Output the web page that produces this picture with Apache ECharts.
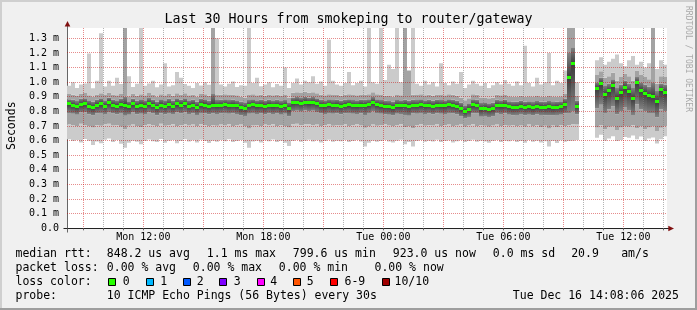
<!DOCTYPE html>
<html><head><meta charset="utf-8">
<script src="https://cdn.jsdelivr.net/npm/echarts@6/dist/echarts.min.js"></script>
<style>html,body{margin:0;padding:0;background:#f0f0f0}#c{width:697px;height:310px}</style>
</head><body><div id="c"></div>
<script>
// ---------- axis / category definitions ----------
const startTime = new Date(2025, 11, 15, 8, 11, 0).getTime();
const endTime   = new Date(2025, 11, 16, 14, 11, 0).getTime();
const stepMs = 12 * 60 * 1000;          // one smoke column = 12 minutes
const yMax = 1371;                       // microseconds
const yTicks = [0,100,200,300,400,500,600,700,800,900,1000,1100,1200,1300];
const xLabelTexts = ['Mon 12:00','Mon 18:00','Tue 00:00','Tue 06:00','Tue 12:00'];
const xLabelTimes = [
  new Date(2025,11,15,12,0).getTime(), new Date(2025,11,15,18,0).getTime(),
  new Date(2025,11,16,0,0).getTime(),  new Date(2025,11,16,6,0).getTime(),
  new Date(2025,11,16,12,0).getTime()];

// ---------- data (microseconds), one value per 12-minute column ----------
const pingMin = [
 610,598,605,588,612,600,570,595,582,606,
 615,590,604,578,552,585,600,592,575,598,
 608,596,590,612,585,600,605,582,598,610,
 595,602,588,606,598,584,600,592,604,596,
 610,590,598,605,586,552,594,600,588,602,
 596,608,590,600,585,564,598,604,592,600,
 606,594,602,588,598,606,592,600,596,605,
 590,598,604,595,560,586,600,592,598,604,
 594,588,600,606,576,590,560,598,604,592,
 600,594,606,590,598,602,588,596,604,590,
 598,606,592,600,594,586,598,604,590,600,
 596,602,590,598,586,604,592,600,588,596,
 560,598,584,602,592,598,600,604,null,null,
 null,null,620,640,600,615,630,598,605,625,
 620,635,610,628,600,615,622,580,610,630];
const pingLow2 = [
 712,705,700,715,708,698,690,706,702,712,
 716,704,708,696,680,702,710,700,694,708,
 714,706,700,716,702,708,712,698,706,714,
 704,710,700,712,706,698,708,702,710,704,
 714,700,706,710,698,684,704,708,700,710,
 706,714,700,708,698,690,712,716,708,712,
 714,706,710,700,706,712,702,708,704,712,
 700,706,712,704,688,698,710,702,706,712,
 704,698,708,712,692,700,686,706,712,702,
 708,704,712,700,706,710,698,704,710,696,
 704,712,700,706,702,696,704,710,698,706,
 702,708,698,704,696,710,700,706,694,702,
 684,704,694,708,700,706,712,710,null,null,
 null,null,690,705,680,695,700,672,690,700,
 695,705,685,700,678,690,700,665,688,700];
const pingLow1 = [
 790,784,778,792,794,780,772,786,790,782,
 796,786,780,790,770,778,792,780,784,782,
 794,786,774,788,780,790,782,792,786,794,
 782,788,776,790,786,780,786,782,786,790,
 784,788,782,772,768,784,790,782,786,780,
 788,782,786,778,784,766,800,804,798,806,
 800,804,796,786,782,790,784,788,780,786,
 790,784,782,788,776,790,800,790,784,780,
 778,772,784,782,776,770,786,784,790,782,
 786,780,788,784,782,790,786,780,766,752,
 762,788,786,764,768,762,766,786,782,788,
 778,774,776,782,774,778,772,780,776,774,
 772,772,776,778,786,790,800,780,null,null,
 null,null,820,845,790,815,835,780,800,830,
 810,775,850,815,800,790,790,760,815,800];
const pingMedian = [
 851,844,832,848,853,837,828,844,853,837,
 862,844,837,848,844,832,851,835,844,837,
 855,844,830,844,835,848,835,851,844,853,
 837,844,830,848,844,835,844,839,842,846,
 840,844,838,826,822,840,846,838,842,836,
 844,838,842,834,840,822,858,862,856,864,
 858,862,855,842,838,846,840,844,836,842,
 846,840,838,844,842,846,862,846,840,836,
 834,828,840,838,844,836,842,840,846,838,
 842,836,844,840,838,846,842,836,820,800,
 815,845,842,818,822,815,820,842,838,844,
 832,828,830,836,828,832,826,834,830,828,
 834,826,830,832,848,1030,1125,835,null,null,
 null,null,957,990,915,940,975,890,930,965,
 935,890,995,945,925,907,900,866,948,930];
const pingHigh1 = [
 884,880,872,886,890,876,868,882,890,876,
 896,882,876,886,900,870,888,874,884,876,
 892,882,868,884,876,886,874,890,882,890,
 876,882,868,886,884,874,920,878,880,884,
 878,882,876,866,862,878,884,876,880,874,
 882,876,880,872,878,862,894,898,892,900,
 894,898,890,880,876,884,878,882,874,880,
 884,878,876,882,880,884,898,884,878,874,
 872,866,878,876,880,874,880,878,884,876,
 880,874,882,878,876,884,880,874,860,842,
 856,884,880,858,862,856,860,880,876,882,
 870,866,868,874,866,870,864,872,868,866,
 872,864,868,870,886,1200,1240,874,null,null,
 null,null,1000,1030,980,990,1020,960,985,1010,
 990,960,1035,1000,985,970,1000,940,990,985];
const pingHigh2 = [
 920,914,906,922,926,910,902,916,924,912,
 930,916,910,920,1380,904,922,908,918,910,
 926,916,902,918,910,920,908,924,916,924,
 910,916,902,920,918,908,1380,912,914,918,
 912,916,910,900,896,912,918,910,914,908,
 916,910,914,906,912,896,928,932,926,934,
 928,932,924,914,910,918,912,916,908,914,
 918,912,910,916,914,918,932,918,912,908,
 906,900,912,910,1380,1080,914,912,918,910,
 914,908,916,912,910,918,914,908,894,876,
 890,918,914,892,896,890,894,914,910,916,
 904,900,902,908,900,904,898,906,902,900,
 906,898,902,904,920,1380,1380,908,null,null,
 null,null,1050,1075,1030,1040,1065,1010,1035,1060,
 1040,1010,1080,1050,1035,1020,1380,990,1040,1035];
const pingMax = [
 975,1000,960,985,992,1197,958,1010,1335,970,
 1010,975,1030,988,1380,1040,968,990,1380,975,
 992,1010,965,985,1130,970,980,1070,1030,988,
 975,960,995,978,1000,982,1380,1300,984,970,
 990,1005,968,980,975,1380,995,1030,972,985,
 1000,966,988,975,1100,960,995,1025,985,1010,
 1000,1040,990,1005,975,1290,1010,985,975,995,
 1070,980,995,1010,970,1380,1000,990,1380,1015,
 1120,1090,1380,1000,1380,1080,1380,990,975,1010,
 985,1000,970,1130,995,980,1005,990,1070,960,
 985,1010,990,975,995,960,980,1000,985,1015,
 990,975,1005,980,1250,995,970,1030,985,1000,
 1200,980,1010,995,1080,1380,1380,1000,null,null,
 null,null,1150,1170,1120,1140,1160,1190,1130,1110,
 1150,1180,1120,1140,1100,1130,1380,1090,1150,1120];

const lossColors = ['#26ff00','#00b8ff','#0059ff','#7e00ff','#ff00ff','#ff5500','#ff0000','#a00000'];
const lossLabels = ['0','1','2','3','4','5','6-9','10/10'];

// ---------- build ----------
const FONT = '"DejaVu Sans Mono", monospace';
const smokeData = [], medData = [];
pingMedian.forEach((m, i) => {
  if (m == null) return;
  const t = startTime + i * stepMs;
  smokeData.push([t, pingMin[i], pingLow2[i], pingLow1[i], m, pingHigh1[i], pingHigh2[i], pingMax[i]]);
  medData.push([t, m]);
});
const hourGrid = [];
for (let t = new Date(2025,11,15,9,0).getTime(); t < endTime; t += 3600000) hourGrid.push([t, 0]);

const LIGHT = '#cbcbcb', MID = '#a3a3a3';
const gradUp = new echarts.graphic.LinearGradient(0,0,0,1,[{offset:0,color:'#3c3c3c'},{offset:1,color:'#828282'}]);
const gradDown = new echarts.graphic.LinearGradient(0,0,0,1,[{offset:0,color:'#828282'},{offset:1,color:'#3c3c3c'}]);

function renderSmoke(params, api) {
  const t = api.value(0);
  const cs = params.coordSys;
  const x0 = api.coord([t, 0])[0];
  const x1 = api.coord([t + stepMs, 0])[0];
  const v = [1,2,3,4,5,6,7].map(k => api.value(k));
  const fills = [LIGHT, MID, gradUp, gradDown, MID, LIGHT];
  const children = [];
  for (let k = 0; k < 6; k++) {
    const yb = api.coord([t, v[k]])[1];
    const yt = Math.max(api.coord([t, v[k+1]])[1], cs.y);
    if (yb - yt <= 0) continue;
    children.push({type:'rect', shape:{x:x0, y:yt, width:x1-x0, height:yb-yt}, style:{fill:fills[k]}});
  }
  return {type:'group', children};
}
function renderMedian(params, api) {
  const t = api.value(0);
  const x0 = api.coord([t, 0])[0];
  const x1 = api.coord([t + stepMs, 0])[0];
  const y = api.coord([t, api.value(1)])[1];
  return {type:'rect', shape:{x:x0, y:Math.round(y - 1.5), width:x1-x0, height:3}, style:{fill:lossColors[0]}};
}
const MAJOR_GRID = 'rgba(200,0,0,0.45)', MINOR_GRID = 'rgba(130,130,130,0.6)';
function renderVGrid(params, api) {
  const t = api.value(0);
  const cs = params.coordSys;
  const x = Math.floor(api.coord([t, 0])[0]) + 0.5;
  const major = new Date(t).getHours() % 3 === 0;
  return {type:'line', shape:{x1:x, y1:cs.y, x2:x, y2:cs.y + cs.height},
    style:{stroke: major ? MAJOR_GRID : MINOR_GRID, lineWidth:1, lineDash:[1,1]}};
}
function renderHGrid(params, api) {
  const cs = params.coordSys;
  const y = Math.floor(api.coord([startTime, api.value(1)])[1]) + 0.5;
  return {type:'line', shape:{x1:cs.x, y1:y, x2:cs.x + cs.width, y2:y},
    style:{stroke:MAJOR_GRID, lineWidth:1, lineDash:[1,1]}};
}
const dayNames = ['Sun','Mon','Tue','Wed','Thu','Fri','Sat'];
const pad = n => (n < 10 ? '0' : '') + n;

const chart = echarts.init(document.getElementById('c'), null, {renderer:'canvas'});
chart.setOption({
  animation:false,
  backgroundColor:'#f0f0f0',
  title:{text:'Last 30 Hours from smokeping to router/gateway', left:'center', top:12.6, padding:0,
    textStyle:{fontFamily:FONT, fontSize:13.3, fontWeight:'normal', color:'#000'}},
  grid:{left:67, right:30, top:28, bottom:81.67, show:true, backgroundColor:'#ffffff', borderWidth:0,
    containLabel:false, outerBoundsMode:'none'},
  xAxis:{type:'value', min:startTime, max:endTime,
    axisLine:{show:true, lineStyle:{color:'#222', width:1}},
    axisTick:{show:true, length:2, customValues:hourGrid.map(h => h[0]), lineStyle:{color:'#666'}},
    axisLabel:{customValues:xLabelTimes, margin:4, fontFamily:FONT, fontSize:10, color:'#000',
      formatter: v => { const d = new Date(v); return dayNames[d.getDay()] + ' ' + pad(d.getHours()) + ':' + pad(d.getMinutes()); }},
    splitLine:{show:false}},
  yAxis:{type:'value', min:0, max:yMax, interval:100,
    name:'Seconds', nameLocation:'middle', nameGap:48, nameRotate:90,
    nameTextStyle:{fontFamily:FONT, fontSize:11.5, color:'#000', padding:[0,0,0,5]},
    axisLine:{show:true, lineStyle:{color:'#666', width:1}},
    axisTick:{show:false},
    axisLabel:{margin:8, fontFamily:FONT, fontSize:10, color:'#000', showMaxLabel:false,
      formatter: v => (v % 100 !== 0) ? '' : (v === 0 ? '0.0' : (v/1000).toFixed(1) + ' m')},
    splitLine:{show:false}},
  series:[
    {type:'custom', name:'smoke', data:smokeData, renderItem:renderSmoke, encode:{x:0, y:[1,2,3,4,5,6,7]}, z:2, silent:true, clip:true},
    {type:'custom', name:'vgrid', data:hourGrid, renderItem:renderVGrid, encode:{x:0, y:1}, z:3, silent:true},
    {type:'custom', name:'hgrid', data:yTicks.filter(v => v > 0).map(v => [startTime, v]), renderItem:renderHGrid, encode:{x:0, y:1}, z:3, silent:true},
    {type:'custom', name:'median rtt', data:medData, renderItem:renderMedian, encode:{x:0, y:1}, z:4, silent:true, clip:true}
  ]
});

// ---------- decorations and legend text ----------
const o = chart.convertToPixel({gridIndex:0}, [startTime, 0]);
const e = chart.convertToPixel({gridIndex:0}, [endTime, yMax]);
const ox = Math.floor(o[0]) + 0.5, oy = Math.floor(o[1]) + 0.5, ex = e[0], ty = e[1];
const g = [];
g.push({type:'rect', shape:{x:0,y:0,width:697,height:2}, style:{fill:'#cfcfcf'}, z:100});
g.push({type:'rect', shape:{x:0,y:0,width:2,height:310}, style:{fill:'#cfcfcf'}, z:100});
g.push({type:'rect', shape:{x:695,y:0,width:2,height:310}, style:{fill:'#9e9e9e'}, z:100});
g.push({type:'rect', shape:{x:0,y:308,width:697,height:2}, style:{fill:'#9e9e9e'}, z:100});
g.push({type:'line', shape:{x1:ox-4, y1:oy, x2:ox, y2:oy}, style:{stroke:'#222', lineWidth:1}, z:50});
g.push({type:'line', shape:{x1:ex, y1:oy, x2:ex+2, y2:oy}, style:{stroke:'#222', lineWidth:1}, z:50});
g.push({type:'line', shape:{x1:ox, y1:oy, x2:ox, y2:oy+4}, style:{stroke:'#666', lineWidth:1}, z:50});
g.push({type:'line', shape:{x1:ox, y1:ty, x2:ox, y2:ty-3}, style:{stroke:'#666', lineWidth:1}, z:50});
g.push({type:'polygon', shape:{points:[[ex+1.3, oy-2.8],[ex+7, oy],[ex+1.3, oy+2.8]]}, style:{fill:'#801010'}, z:50});
g.push({type:'polygon', shape:{points:[[ox-2.8, ty-1.5],[ox, ty-7],[ox+2.8, ty-1.5]]}, style:{fill:'#801010'}, z:50});
g.push({type:'text', x:688, y:59, rotation:-Math.PI/2, style:{text:'RRDTOOL / TOBI OETIKER', font:'8px ' + FONT,
  fill:'#a9a9a9', align:'center', verticalAlign:'middle'}, z:50});
const LF = '11.5px ' + FONT;
function txt(s, x, y) {
  g.push({type:'text', x:x, y:y, style:{text:s, font:LF, fill:'#000', align:'left', verticalAlign:'middle'}, z:50});
}
const L1 = 254.3, L2 = 268.3, L3 = 282.2, L4 = 296.2;
txt('median rtt:', 15.5, L1);
txt('848.2 us avg', 106.8, L1);
txt('1.1 ms max', 206.8, L1);
txt('799.6 us min', 292.8, L1);
txt('923.0 us now', 392.8, L1);
txt('0.0 ms sd', 492.8, L1);
txt('20.9', 571.2, L1);
txt('am/s', 621.2, L1);
txt('packet loss:', 15.5, L2);
txt('0.00 % avg', 106.8, L2);
txt('0.00 % max', 192.8, L2);
txt('0.00 % min', 278.8, L2);
txt('0.00 % now', 374.5, L2);
txt('loss color:', 15.5, L3);
const boxX = [108.3, 145.7, 182.7, 219.3, 256.7, 293.3, 330, 381.7];
const labX = [122.8, 160.2, 196.8, 233.8, 270.2, 306.8, 344.5, 394.5];
lossColors.forEach((c, i) => {
  g.push({type:'rect', shape:{x:Math.round(boxX[i])+0.5, y:278.5, width:7, height:7}, style:{fill:c, stroke:'#000', lineWidth:1}, z:50});
  txt(lossLabels[i], labX[i], L3);
});
txt('probe:', 15.5, L4);
txt('10 ICMP Echo Pings (56 Bytes) every 30s', 106.8, L4);
txt('Tue Dec 16 14:08:06 2025', 512.8, L4);
chart.setOption({graphic: g});
</script>
</body></html>
